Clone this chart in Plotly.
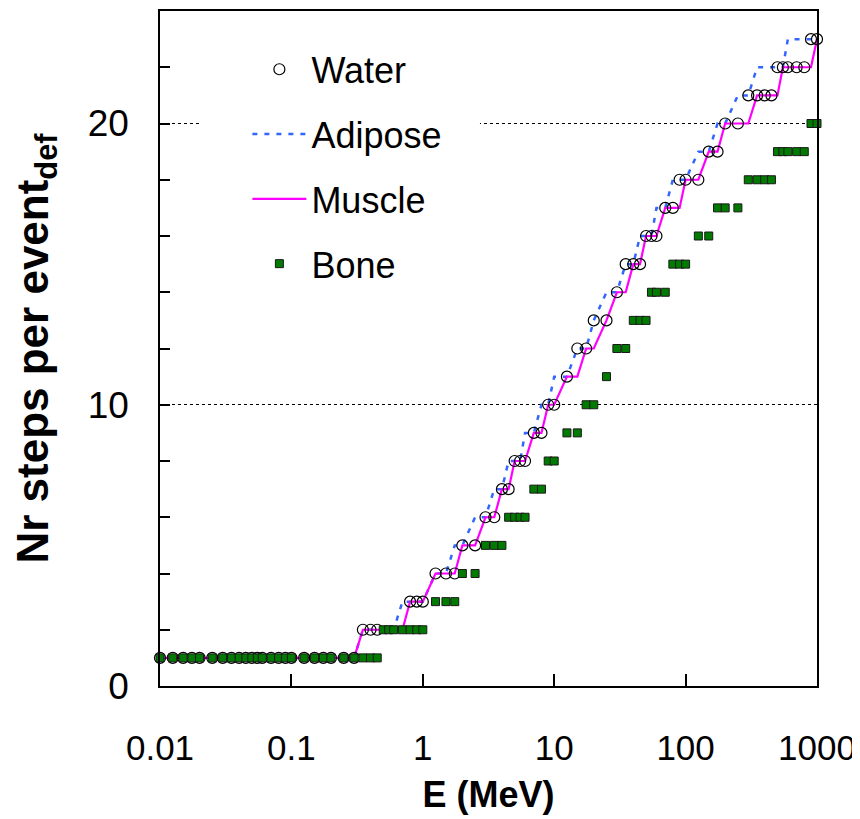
import plotly.graph_objects as go

# Energy grid (MeV)
energy = [0.01, 0.0125, 0.015, 0.0175, 0.02, 0.025, 0.03, 0.035, 0.04, 0.045,
          0.05, 0.055, 0.06, 0.07, 0.08, 0.09, 0.1, 0.125, 0.15, 0.175,
          0.2, 0.25, 0.3, 0.35, 0.4, 0.45, 0.5, 0.55, 0.6, 0.7,
          0.8, 0.9, 1, 1.25, 1.5, 1.75, 2, 2.5, 3, 3.5,
          4, 4.5, 5, 5.5, 6, 7, 8, 9, 10, 12.5,
          15, 17.5, 20, 25, 30, 35, 40, 45, 50, 55,
          60, 70, 80, 90, 100, 125, 150, 175, 200, 250,
          300, 350, 400, 450, 500, 550, 600, 700, 800, 900, 1000]

water = [1, 1, 1, 1, 1, 1, 1, 1, 1, 1,
         1, 1, 1, 1, 1, 1, 1, 1, 1, 1,
         1, 1, 1, 2, 2, 2, None, None, None, None,
         3, 3, 3, 4, 4, 4, 5, 5, 6, 6,
         7, 7, 8, 8, 8, 9, 9, 10, 10, 11,
         12, 12, 13, 13, 14, 15, 15, 15, 16, 16,
         16, 17, 17, 18, 18, 18, 19, 19, 20, 20,
         21, 21, 21, 21, 22, 22, 22, 22, 22, 23, 23]

adipose = [1, 1, 1, 1, 1, 1, 1, 1, 1, 1,
           1, 1, 1, 1, 1, 1, 1, 1, 1, 1,
           1, 1, 1, 2, 2, 2, 2, 2, 2, 3,
           3, 3, 3, 4, 4, 5, 5, 6, 6, 7,
           7, 8, 8, 8, 9, 9, 10, 10, 11, 11,
           12, 12, 13, 14, 14, 15, 15, 16, 16, 16,
           17, 17, 18, 18, 18, 19, 19, 20, 20, 21,
           21, 22, 22, 22, 22, 22, 23, 23, 23, 23, 23]

muscle = [1, 1, 1, 1, 1, 1, 1, 1, 1, 1,
          1, 1, 1, 1, 1, 1, 1, 1, 1, 1,
          1, 1, 1, 2, 2, 2, 2, 2, 2, 2,
          3, 3, 3, 4, 4, 4, 5, 5, 6, 6,
          7, 7, 8, 8, 8, 9, 9, 10, 10, 11,
          11, 12, 12, 13, 14, 14, 15, 15, 16, 16,
          16, 17, 17, 17, 18, 18, 19, 19, 20, 20,
          20, 21, 21, 21, 21, 22, 22, 22, 22, 22, 23]

bone = [1, 1, 1, 1, 1, 1, 1, 1, 1, 1,
        1, 1, 1, 1, 1, 1, 1, 1, 1, 1,
        1, 1, 1, 1, 1, 1, 2, 2, 2, 2,
        2, 2, 2, 3, 3, 3, 4, 4, 5, 5,
        5, 6, 6, 6, 6, 7, 7, 8, 8, 9,
        9, 10, 10, 11, 12, 12, 13, 13, 13, 14,
        14, 14, 15, 15, 15, 16, 16, 17, 17, 17,
        18, 18, 18, 18, 19, 19, 19, 19, 19, 20, 20]

x_tickvals = [0.01, 0.1, 1, 10, 100, 1000]
x_ticktext = ["0.01", "0.1", "1", "10", "100", "1000"]
y_tickvals = [0, 10, 20]

FONT = "Liberation Sans, Arial, sans-serif"

fig = go.Figure()

fig.add_trace(go.Scatter(
    x=energy, y=adipose, mode="lines", name="Adipose",
    line=dict(color="#3366FF", width=2.5, dash="5px,7px"),
    legendrank=2, legendgroup="a"))
fig.add_trace(go.Scatter(
    x=energy, y=muscle, mode="lines", name="Muscle",
    line=dict(color="#FF00FF", width=2.2),
    legendrank=3, legendgroup="m"))
fig.add_trace(go.Scatter(
    x=energy, y=water, mode="markers", name="Water",
    marker=dict(symbol="circle-open", size=11, color="black", line=dict(width=1.2)),
    cliponaxis=False, legendrank=1, legendgroup="w"))
fig.add_trace(go.Scatter(
    x=energy, y=bone, mode="markers", name="Bone",
    marker=dict(symbol="square", size=8, color="#007A00",
                line=dict(color="#1a1a1a", width=1)),
    cliponaxis=False, legendrank=4, legendgroup="b"))

# white background box of the legend area (covers the gridline as in the reference)
fig.add_shape(type="rect", xref="paper", yref="paper",
              x0=0.061, x1=0.487, y0=0.58, y1=0.955,
              fillcolor="white", line=dict(width=0), layer="above")

fig.update_layout(
    width=852, height=811,
    margin=dict(l=152, r=43, t=1, b=133),
    paper_bgcolor="white", plot_bgcolor="white",
    font=dict(family=FONT, color="black", size=34),
    showlegend=True,
    legend=dict(
        x=0.133, y=0.958, xanchor="left", yanchor="top",
        bgcolor="white", borderwidth=0,
        font=dict(family=FONT, size=36, color="black"),
        traceorder="grouped", tracegroupgap=15, itemwidth=54,
    ),
)

fig.update_xaxes(
    type="log", range=[-2, 3],
    tickvals=x_tickvals, ticktext=x_ticktext,
    ticks="inside", ticklen=12, tickwidth=1.5, tickcolor="black",
    showline=True, linecolor="black", linewidth=1.5, mirror=True,
    showgrid=False, zeroline=False,
    tickfont=dict(family=FONT, size=35),
    ticklabelstandoff=30,
    title=dict(text="<b>E (MeV)</b>", font=dict(family=FONT, size=36), standoff=16),
)
fig.update_yaxes(
    range=[0, 24],
    tickvals=y_tickvals,
    ticks="inside", ticklen=10, tickwidth=1.5, tickcolor="black",
    minor=dict(dtick=2, ticks="inside", ticklen=10, tickwidth=1.5, tickcolor="black", showgrid=False),
    showline=True, linecolor="black", linewidth=1.5, mirror=True,
    showgrid=True, gridcolor="black", gridwidth=1, griddash="3px,3px",
    zeroline=False,
    tickfont=dict(family=FONT, size=37),
    ticklabelstandoff=22,
    title=dict(text="<b>Nr steps per event<sub>def</sub></b>", font=dict(family=FONT, size=44), standoff=26),
)

fig.write_html("out.html")
